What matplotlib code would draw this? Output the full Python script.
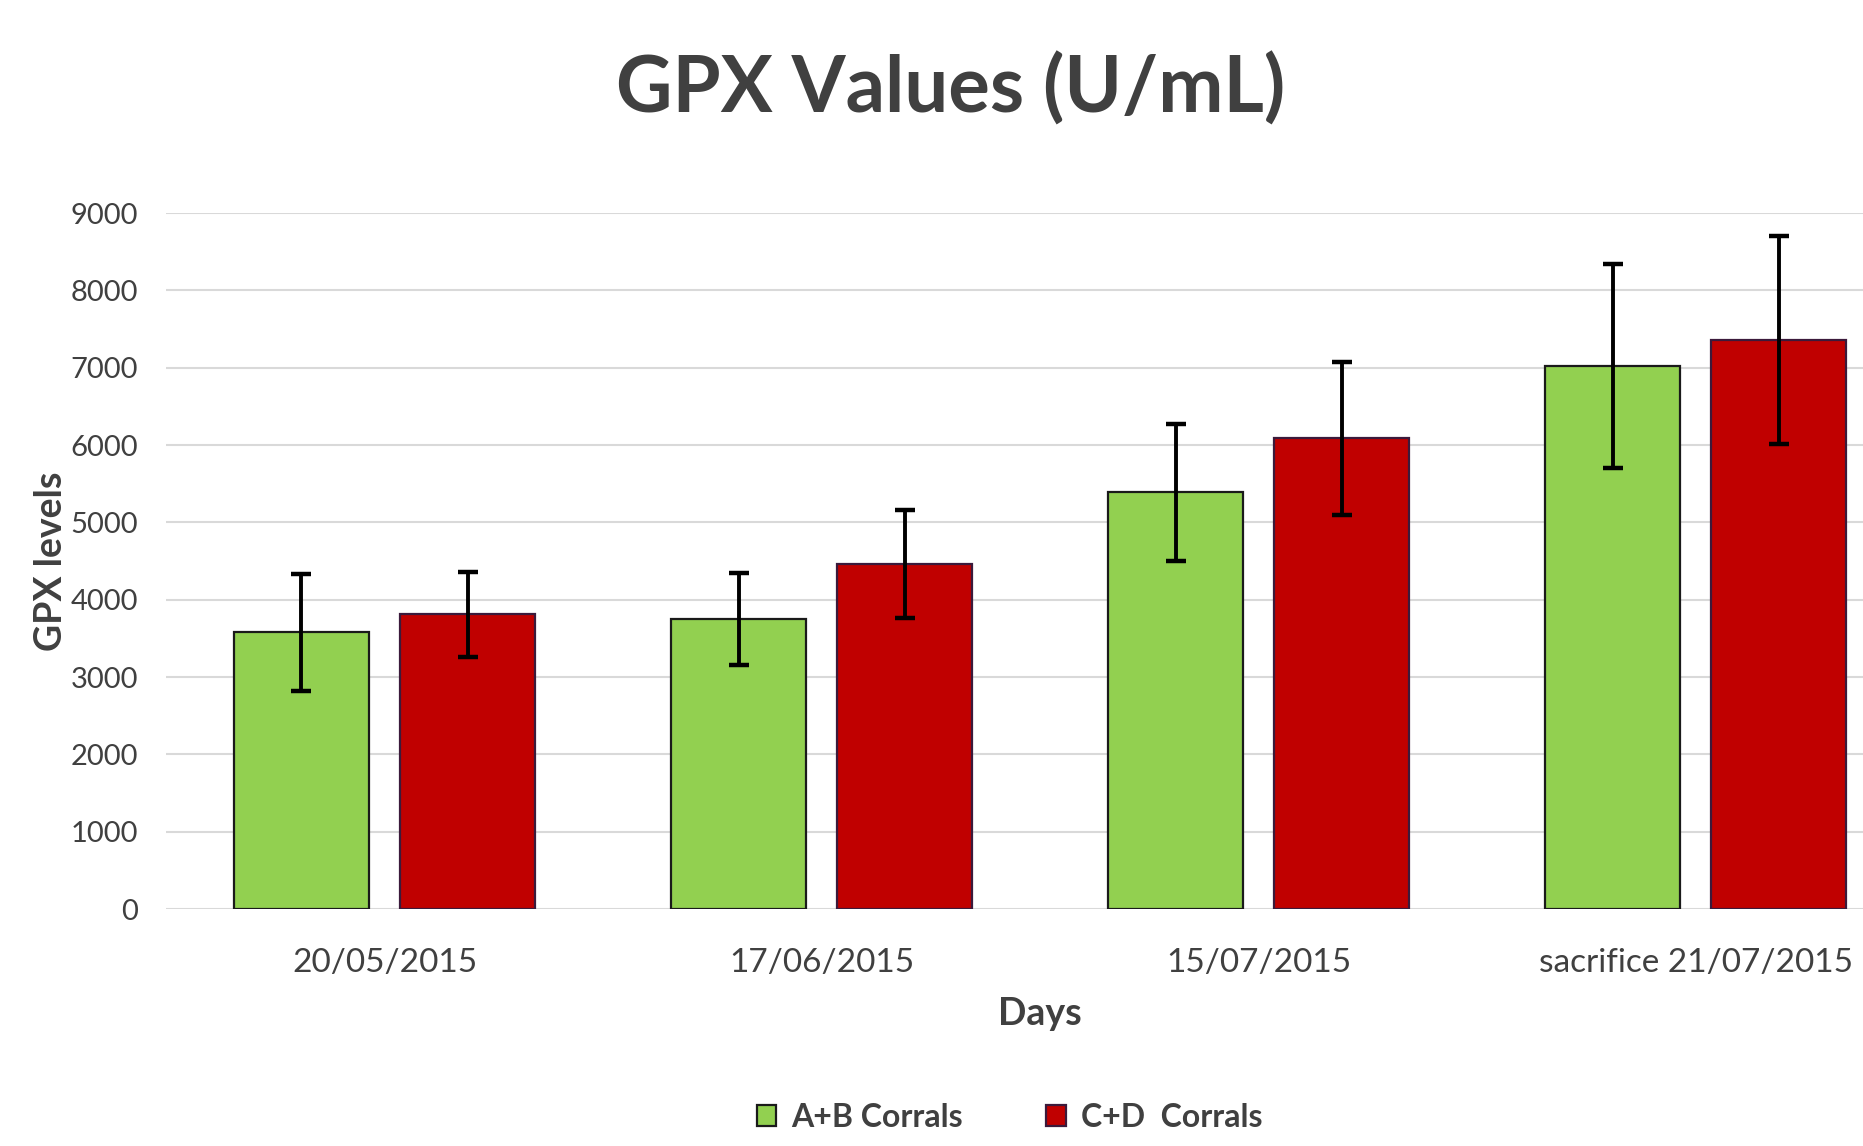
import numpy as np
import matplotlib.pyplot as plt

plt.rcParams['font.family'] = ['Lato', 'DejaVu Sans']

# data
days = ['20/05/2015', '17/06/2015', '15/07/2015', 'sacrifice 21/07/2015']
ab_corrals = [3580, 3750, 5390, 7020]
ab_err = [755, 600, 885, 1320]
cd_corrals = [3810, 4460, 6085, 7360]
cd_err = [545, 700, 985, 1345]
yticks = [0, 1000, 2000, 3000, 4000, 5000, 6000, 7000, 8000, 9000]

txt = '#404040'
green = '#92D050'
red = '#C00000'

fig = plt.figure(figsize=(18.63, 11.46), dpi=100)
ax = fig.add_axes([0.0891, 0.2068, 0.9109, 0.6073])

x = np.arange(len(days))
w = 0.31
off = 0.19
err_kw = dict(ecolor='black', elinewidth=2.8, capsize=7, capthick=3.2)
ax.bar(x - off, ab_corrals, w, color=green, edgecolor='#1a1a1a', linewidth=1.6,
       yerr=ab_err, error_kw=err_kw, label='A+B Corrals', zorder=3)
ax.bar(x + off, cd_corrals, w, color=red, edgecolor='#3b1a3b', linewidth=1.6,
       yerr=cd_err, error_kw=err_kw, label='C+D  Corrals', zorder=3)

ax.set_xlim(-0.5, 3.383)
ax.set_ylim(0, 9000)
ax.set_yticks(yticks)
ax.set_yticklabels([str(v) for v in yticks], fontsize=21, color=txt)
ax.set_xticks(x)
ax.set_xticklabels(days, fontsize=24, color=txt)
ax.tick_params(axis='both', length=0)
ax.tick_params(axis='y', pad=20)
ax.tick_params(axis='x', pad=28)
ax.grid(axis='y', color='#d9d9d9', linewidth=1.5, zorder=0)
for s in ax.spines.values():
    s.set_visible(False)

ax.set_xlabel('Days', fontsize=27, fontweight='bold', color=txt)
ax.xaxis.set_label_coords(0.515, -0.127)
ax.set_ylabel('GPX levels', fontsize=27, fontweight='bold', color=txt)
ax.yaxis.set_label_coords(-0.058, 0.5)

fig.text(0.51, 0.922, 'GPX Values (U/mL)', fontsize=56, fontweight='bold',
         color=txt, ha='center', va='center')

fig.legend(loc='center', bbox_to_anchor=(0.542, 0.025), ncol=2, frameon=False,
           prop={'weight': 'bold', 'size': 23}, labelcolor=txt,
           handlelength=0.6, handleheight=0.6, columnspacing=2.6, handletextpad=0.5)

fig.savefig('out.png', dpi=100)
